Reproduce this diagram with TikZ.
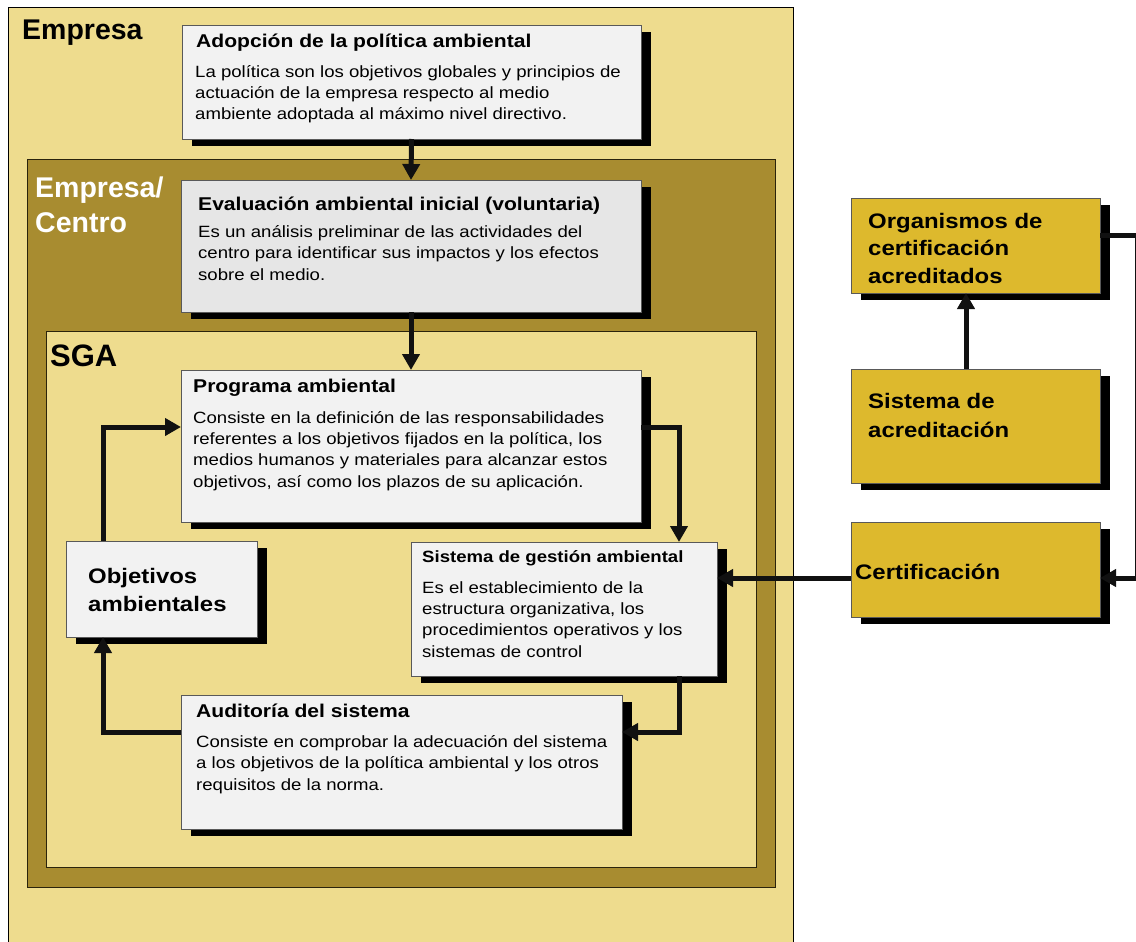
\documentclass[tikz,border=0pt]{standalone}
\usepackage{fontspec}
\setmainfont{Liberation Sans}
\newfontfamily\widefont{Liberation Sans}[FakeStretch=1.14]
\usetikzlibrary{arrows.meta,shadows}
\definecolor{lightyel}{RGB}{238,220,142}
\definecolor{oliveband}{RGB}{168,140,48}
\definecolor{goldbox}{RGB}{221,185,45}
\definecolor{boxgray}{RGB}{242,242,242}
\definecolor{evalgray}{RGB}{230,230,230}
\definecolor{lineblack}{RGB}{17,17,17}
\tikzset{
  panel/.style={anchor=north west, inner sep=0pt, outer sep=0pt, line width=0.8pt},
  wbox/.style={panel, draw=black!65, fill=boxgray,
    drop shadow={shadow xshift=10pt, shadow yshift=-7pt, fill=black, opacity=1}},
  gbox/.style={wbox, fill=goldbox},
  conn/.style={line width=5pt, draw=lineblack, -{Triangle[length=16pt,width=17pt]}},
  ttl/.style={anchor=base west, inner sep=0pt, font=\widefont\bfseries\fontsize{18.5}{21}\selectfont},
  bdy/.style={anchor=base west, inner sep=0pt, align=left, font=\widefont\fontsize{16.3}{21.2}\selectfont},
  big/.style={anchor=base west, inner sep=0pt, align=left, font=\bfseries\fontsize{28.5}{35}\selectfont},
  lbl/.style={anchor=base west, inner sep=0pt, align=left, font=\widefont\bfseries\fontsize{21}{28}\selectfont},
}
\begin{document}
\begin{tikzpicture}[x=1pt,y=-1pt]
\useasboundingbox (0,0) rectangle (1136,942);
\fill[white] (0,0) rectangle (1136,942);
% containers
\node[panel, draw=black, fill=lightyel, minimum width=785pt, minimum height=960pt] (empresa) at (8,7) {};
\node[panel, draw=black!75!oliveband, fill=oliveband, minimum width=748pt, minimum height=728pt] (centro) at (27,159) {};
\node[panel, draw=black!75!oliveband, fill=lightyel, minimum width=710pt, minimum height=536pt] (sgabox) at (46,331) {};
% boxes
\node[wbox, minimum width=459pt, minimum height=114pt] (adop) at (182,25) {};
\node[wbox, fill=evalgray, minimum width=460pt, minimum height=132pt] (eval) at (181,180) {};
\node[wbox, minimum width=460pt, minimum height=152pt] (prog) at (181,370) {};
\node[wbox, minimum width=191pt, minimum height=96pt] (obj) at (66,541) {};
\node[wbox, minimum width=306pt, minimum height=134pt] (sgm) at (411,542) {};
\node[wbox, minimum width=441pt, minimum height=134pt] (aud) at (181,695) {};
\node[gbox, minimum width=249pt, minimum height=95pt] (org) at (851,198) {};
\node[gbox, minimum width=249pt, minimum height=114pt] (acr) at (851,369) {};
\node[gbox, minimum width=249pt, minimum height=95pt] (cert) at (851,522) {};
% container labels (anchor = baseline of last line)
\node[big] (lemp) at (22,40) {Empresa};
\node[big, text=white] (lcen) at (35,232) {Empresa/\\Centro};
\node[big, font=\bfseries\fontsize{31}{35}\selectfont] (lsga) at (50,366) {SGA};
% box texts
\node[ttl] (tadop) at (196,48) {Adopción de la política ambiental};
\node[bdy] (badop) at (195,120) {La política son los objetivos globales y principios de\\actuación de la empresa respecto al medio\\ambiente adoptada al máximo nivel directivo.};
\node[ttl] (teval) at (198,210) {Evaluación ambiental inicial (voluntaria)};
\node[bdy] (beval) at (198,280) {Es un análisis preliminar de las actividades del\\centro para identificar sus impactos y los efectos\\sobre el medio.};
\node[ttl] (tprog) at (193,392) {Programa ambiental};
\node[bdy] (bprog) at (193,487) {Consiste en la definición de las responsabilidades\\referentes a los objetivos fijados en la política, los\\medios humanos y materiales para alcanzar estos\\objetivos, así como los plazos de su aplicación.};
\node[ttl, font=\widefont\bfseries\fontsize{16.3}{21}\selectfont] (tsgm) at (422,562) {Sistema de gestión ambiental};
\node[bdy] (bsgm) at (422,657) {Es el establecimiento de la\\estructura organizativa, los\\procedimientos operativos y los\\sistemas de control};
\node[ttl] (taud) at (196,717) {Auditoría del sistema};
\node[bdy] (baud) at (196,790) {Consiste en comprobar la adecuación del sistema\\a los objetivos de la política ambiental y los otros\\requisitos de la norma.};
\node[lbl] (tobj) at (88,611) {Objetivos\\ambientales};
\node[lbl, font=\widefont\bfseries\fontsize{21}{27.5}\selectfont] (torg) at (868,283) {Organismos de\\certificación\\acreditados};
\node[lbl, font=\widefont\bfseries\fontsize{21}{29}\selectfont] (tacr) at (868,437) {Sistema de\\acreditación};
\node[lbl] (tcert) at (855,579) {Certificación};
% connector points
\coordinate (pe) at ([yshift=-57pt]prog.north east);
\coordinate (pw) at ([yshift=-57pt]prog.north west);
\coordinate (sn) at ([xshift=268pt]sgm.north west);
\coordinate (ss) at ([xshift=268pt]sgm.south west);
\coordinate (ae) at ([yshift=-37pt]aud.north east);
\coordinate (aw) at ([yshift=-37pt]aud.north west);
\coordinate (os) at ([xshift=37pt]obj.south west);
\coordinate (on) at ([xshift=37pt]obj.north west);
\coordinate (an) at ([xshift=115pt]acr.north west);
\coordinate (ors) at ([xshift=115pt]org.south west);
\coordinate (oe) at ([yshift=-37pt]org.north east);
\coordinate (ce) at ([yshift=-56pt]cert.north east);
\coordinate (cw) at ([yshift=-56pt]cert.north west);
\coordinate (redge) at (1137.5,400);
% connectors
\draw[conn] (adop.south) -- (eval.north);
\draw[conn] (eval.south) -- (prog.north);
\draw[conn] (pe) -| (sn);
\draw[conn] (ss) |- (ae);
\draw[conn] (aw) -| (os);
\draw[conn] (on) |- (pw);
\draw[conn] (an) -- (ors);
\draw[conn] (oe) -| (redge) |- (ce);
\draw[conn] (cw) -- (cw -| sgm.east);
\end{tikzpicture}
\end{document}
